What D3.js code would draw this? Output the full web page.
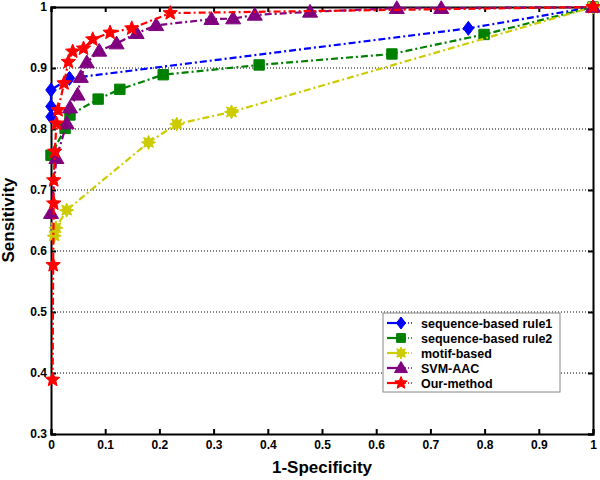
<!DOCTYPE html>
<html><head><meta charset="utf-8">
<script src="https://cdn.jsdelivr.net/npm/d3@7"></script>
<style>body{margin:0;background:#fff}svg{display:block}</style>
</head><body>
<script>
const seriesNames = ["sequence-based rule1","sequence-based rule2","motif-based","SVM-AAC","Our-method"];
const rule1 = [[0,0.82],[0,0.837],[0,0.864],[0.034,0.883],[0.77,0.965],[1,1]];
const rule2 = [[0,0.757],[0.026,0.801],[0.035,0.823],[0.087,0.849],[0.127,0.865],[0.207,0.889],[0.384,0.905],[0.629,0.923],[0.799,0.955],[1,1]];
const motif = [[0.006,0.625],[0.009,0.638],[0.029,0.667],[0.18,0.778],[0.232,0.808],[0.333,0.828],[1,1]];
const svm = [[0,0.662],[0.01,0.752],[0.029,0.809],[0.035,0.835],[0.049,0.856],[0.055,0.885],[0.066,0.909],[0.089,0.928],[0.121,0.94],[0.158,0.957],[0.194,0.97],[0.296,0.98],[0.336,0.981],[0.376,0.987],[0.478,0.992],[0.638,0.998],[0.72,0.998],[1,1]];
const ours = [[0.003,0.389],[0.004,0.577],[0.005,0.678],[0.005,0.716],[0.007,0.763],[0.01,0.809],[0.013,0.831],[0.024,0.875],[0.032,0.91],[0.04,0.927],[0.06,0.932],[0.077,0.947],[0.109,0.958],[0.149,0.965],[0.22,0.99],[1,1]];
const xTicks = [0,0.1,0.2,0.3,0.4,0.5,0.6,0.7,0.8,0.9,1];
const yTicks = [0.3,0.4,0.5,0.6,0.7,0.8,0.9,1];
const colors = ["#0000ff","#008000","#cccc00","#800080","#ff0000"];
const shapes = ["diamond","square","star8","triangle","star5"];
const allSeries = [rule1, rule2, motif, svm, ours];

const W=600,H=480;
const svg=d3.select("body").append("svg").attr("width",W).attr("height",H);
const x=d3.scaleLinear().domain([0,1]).range([51,593]);
const y=d3.scaleLinear().domain([0.3,1]).range([434,7]);
const font="Arial, 'Liberation Sans', sans-serif";

// gridlines
svg.append("g").selectAll("line").data(yTicks.filter(v=>v>0.3&&v<1)).join("line")
  .attr("x1",x(0)).attr("x2",x(1)).attr("y1",d=>y(d)).attr("y2",d=>y(d))
  .attr("stroke","#000").attr("stroke-width",1).attr("stroke-dasharray","1,2");

// axes
const axB=d3.axisBottom(x).tickValues(xTicks).tickSize(-5).tickPadding(6).tickFormat(d=>d3.format("~g")(d));
const axL=d3.axisLeft(y).tickValues(yTicks).tickSize(-5).tickPadding(4).tickFormat(d=>d3.format("~g")(d));
const axT=d3.axisTop(x).tickValues(xTicks).tickSize(-5).tickFormat("");
const axR=d3.axisRight(y).tickValues(yTicks).tickSize(-5).tickFormat("");
function style(g){g.select(".domain").attr("stroke","#000").attr("stroke-width",2);
  g.selectAll(".tick line").attr("stroke","#000").attr("stroke-width",2);
  g.selectAll("text").attr("font-family",font).attr("font-weight","bold").attr("font-size",12).attr("fill","#000");}
svg.append("g").attr("transform",`translate(0,${y(0.3)})`).call(axB).call(style);
svg.append("g").attr("transform",`translate(${x(0)},0)`).call(axL).call(style);
svg.append("g").attr("transform",`translate(0,${y(1)})`).call(axT).call(style);
svg.append("g").attr("transform",`translate(${x(1)},0)`).call(axR).call(style);

// markers
function markerPath(shape,size){
  const s=size;
  if(shape==="diamond") return `M0,${-s}L${s*0.75},0L0,${s}L${-s*0.75},0Z`;
  if(shape==="square") return `M${-s*0.8},${-s*0.8}H${s*0.8}V${s*0.8}H${-s*0.8}Z`;
  if(shape==="triangle") return `M0,${-s}L${s},${s*0.7}L${-s},${s*0.7}Z`;
  if(shape==="star5"){let p=[];for(let i=0;i<10;i++){const r=i%2?s*0.45:s;const a=-Math.PI/2+i*Math.PI/5;p.push([r*Math.cos(a),r*Math.sin(a)]);}return "M"+p.map(q=>q.join(",")).join("L")+"Z";}
  if(shape==="star8"){let p=[];for(let i=0;i<16;i++){const r=i%2?s*0.55:s;const a=-Math.PI/2+i*Math.PI/8;p.push([r*Math.cos(a),r*Math.sin(a)]);}return "M"+p.map(q=>q.join(",")).join("L")+"Z";}
}
const sizes=[7,6.5,7,7.5,7.5];
const line=d3.line().x(d=>x(d[0])).y(d=>y(d[1]));
allSeries.forEach((data,i)=>{
  const g=svg.append("g");
  g.append("path").attr("d",line(data)).attr("fill","none").attr("stroke",colors[i]).attr("stroke-width",2.2)
    .attr("stroke-dasharray","7,3,2,3");
  g.selectAll("path.m").data(data).join("path").attr("class","m")
    .attr("transform",d=>`translate(${x(d[0])},${y(d[1])})`)
    .attr("d",markerPath(shapes[i],sizes[i])).attr("fill",colors[i]).attr("stroke",colors[i]).attr("stroke-width",1);
});

// legend
const lg=svg.append("g");
lg.append("rect").attr("x",383).attr("y",313).attr("width",177).attr("height",79).attr("fill","#fff").attr("stroke","#888").attr("stroke-width",1);
seriesNames.forEach((n,i)=>{
  const yy=323+i*15;
  lg.append("line").attr("x1",387).attr("x2",405).attr("y1",yy).attr("y2",yy).attr("stroke",colors[i]).attr("stroke-width",2.2);
  lg.append("line").attr("x1",405).attr("x2",414).attr("y1",yy).attr("y2",yy).attr("stroke",colors[i]).attr("stroke-width",1.5).attr("stroke-dasharray","1,2");
  lg.append("path").attr("transform",`translate(401,${yy})`).attr("d",markerPath(shapes[i],sizes[i]-1)).attr("fill",colors[i]).attr("stroke",colors[i]);
  lg.append("text").attr("x",421).attr("y",yy+4.5).text(n).attr("font-family",font).attr("font-weight","bold").attr("font-size",12.5).attr("fill","#000");
});

// axis titles
svg.append("text").attr("x",322).attr("y",473).attr("text-anchor","middle").text("1-Specificity")
  .attr("font-family",font).attr("font-weight","bold").attr("font-size",17);
svg.append("text").attr("transform",`translate(14,220) rotate(-90)`).attr("text-anchor","middle").text("Sensitivity")
  .attr("font-family",font).attr("font-weight","bold").attr("font-size",17);
</script>
</body></html>
